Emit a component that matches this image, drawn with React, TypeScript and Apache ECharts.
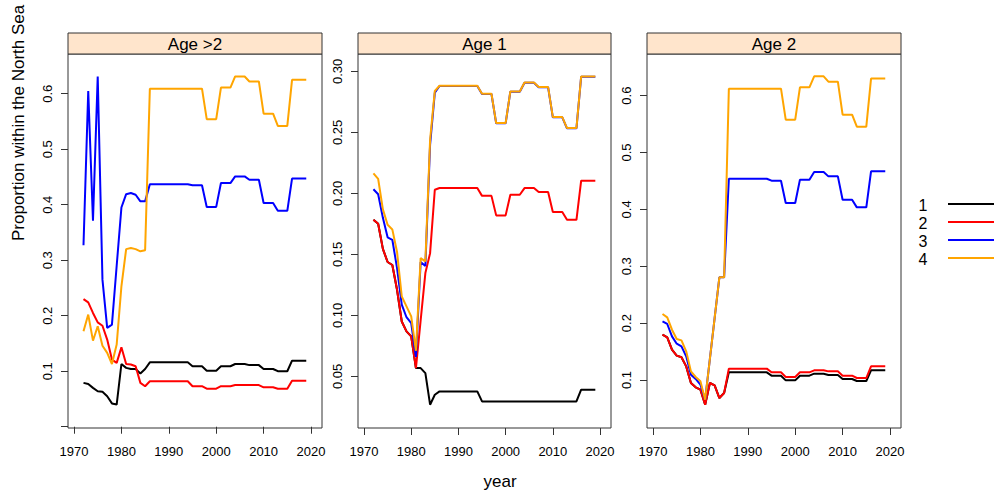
import React, { useEffect, useRef } from "react";
import * as echarts from "echarts";

const years = [
  1972, 1973, 1974, 1975, 1976, 1977, 1978, 1979, 1980, 1981, 1982, 1983,
  1984, 1985, 1986, 1987, 1988, 1989, 1990, 1991, 1992, 1993, 1994, 1995,
  1996, 1997, 1998, 1999, 2000, 2001, 2002, 2003, 2004, 2005, 2006, 2007,
  2008, 2009, 2010, 2011, 2012, 2013, 2014, 2015, 2016, 2017, 2018, 2019,
];

const panelTitles = ["Age >2", "Age 1", "Age 2"];
const seriesNames = ["1", "2", "3", "4"];
const seriesColors = ["#000000", "#FF0000", "#0000FF", "#FFA500"];
const xTickValues = [1970, 1980, 1990, 2000, 2010, 2020];

// Panel "Age >2"
const p1s1 = [
  0.079, 0.077, 0.070, 0.064, 0.063, 0.055, 0.042, 0.040, 0.113, 0.106, 0.104, 0.104,
  0.096, 0.104, 0.116, 0.116, 0.116, 0.116, 0.116, 0.116, 0.116, 0.116, 0.116, 0.109,
  0.109, 0.109, 0.101, 0.101, 0.101, 0.109, 0.109, 0.109, 0.113, 0.113, 0.113, 0.111,
  0.111, 0.111, 0.104, 0.104, 0.104, 0.100, 0.100, 0.100, 0.119, 0.119, 0.119, 0.119,
];
const p1s2 = [
  0.230, 0.224, 0.205, 0.188, 0.182, 0.157, 0.121, 0.115, 0.143, 0.113, 0.112, 0.109,
  0.079, 0.073, 0.082, 0.082, 0.082, 0.082, 0.082, 0.082, 0.082, 0.082, 0.082, 0.073,
  0.073, 0.073, 0.0685, 0.0685, 0.0685, 0.073, 0.073, 0.073, 0.075, 0.075, 0.075, 0.075,
  0.075, 0.075, 0.071, 0.071, 0.071, 0.0685, 0.0685, 0.0685, 0.083, 0.083, 0.083, 0.083,
];
const p1s3 = [
  0.327, 0.605, 0.371, 0.631, 0.265, 0.178, 0.184, 0.290, 0.395, 0.419, 0.421, 0.418,
  0.406, 0.406, 0.437, 0.437, 0.437, 0.437, 0.437, 0.437, 0.437, 0.437, 0.437, 0.435,
  0.435, 0.435, 0.396, 0.396, 0.396, 0.439, 0.439, 0.439, 0.451, 0.451, 0.451, 0.445,
  0.445, 0.445, 0.403, 0.403, 0.403, 0.389, 0.389, 0.389, 0.447, 0.447, 0.447, 0.447,
];
const p1s4 = [
  0.172, 0.202, 0.155, 0.181, 0.146, 0.133, 0.113, 0.148, 0.253, 0.320, 0.322, 0.320,
  0.316, 0.318, 0.609, 0.609, 0.609, 0.609, 0.609, 0.609, 0.609, 0.609, 0.609, 0.609,
  0.609, 0.609, 0.554, 0.554, 0.554, 0.611, 0.611, 0.611, 0.631, 0.631, 0.631, 0.622,
  0.622, 0.622, 0.564, 0.564, 0.564, 0.542, 0.542, 0.542, 0.625, 0.625, 0.625, 0.625,
];

// Panel "Age 1"
const p2s1 = [
  0.1784, 0.1751, 0.1545, 0.1438, 0.1413, 0.121, 0.095, 0.0869, 0.0828, 0.0568, 0.0568, 0.0527,
  0.0268, 0.035, 0.0377, 0.0377, 0.0377, 0.0377, 0.0377, 0.0377, 0.0377, 0.0377, 0.0377, 0.0295,
  0.0295, 0.0295, 0.0295, 0.0295, 0.0295, 0.0295, 0.0295, 0.0295, 0.0295, 0.0295, 0.0295, 0.0295,
  0.0295, 0.0295, 0.0295, 0.0295, 0.0295, 0.0295, 0.0295, 0.0295, 0.0391, 0.0391, 0.0391, 0.0391,
];
const p2s2 = [
  0.1784, 0.1751, 0.1545, 0.1438, 0.1413, 0.121, 0.095, 0.0869, 0.0828, 0.0568, 0.0960, 0.1347,
  0.151, 0.203, 0.2044, 0.2044, 0.2044, 0.2044, 0.2044, 0.2044, 0.2044, 0.2044, 0.2044, 0.198,
  0.198, 0.198, 0.182, 0.182, 0.182, 0.1989, 0.1989, 0.1989, 0.2044, 0.2044, 0.2044, 0.2011,
  0.2011, 0.2011, 0.1847, 0.1847, 0.1847, 0.1784, 0.1784, 0.1784, 0.2104, 0.2104, 0.2104, 0.2104,
];
const p2s3 = [
  0.2034, 0.1993, 0.180, 0.164, 0.162, 0.1388, 0.1088, 0.0985, 0.0937, 0.066, 0.1438, 0.1405,
  0.240, 0.2825, 0.2881, 0.2881, 0.2881, 0.2881, 0.2881, 0.2881, 0.2881, 0.2881, 0.2881, 0.2815,
  0.2815, 0.2815, 0.2575, 0.2575, 0.2575, 0.2834, 0.2834, 0.2834, 0.2908, 0.2908, 0.2908, 0.287,
  0.287, 0.287, 0.2624, 0.2624, 0.2624, 0.2534, 0.2534, 0.2534, 0.2957, 0.2957, 0.2957, 0.2957,
];
const p2s4 = [
  0.2165, 0.212, 0.187, 0.1743, 0.1705, 0.152, 0.1156, 0.1074, 0.0992, 0.071, 0.147, 0.1443,
  0.244, 0.284, 0.2883, 0.2883, 0.2883, 0.2883, 0.2883, 0.2883, 0.2883, 0.2883, 0.2883, 0.2817,
  0.2817, 0.2817, 0.2577, 0.2577, 0.2577, 0.2836, 0.2836, 0.2836, 0.291, 0.291, 0.291, 0.2872,
  0.2872, 0.2872, 0.2626, 0.2626, 0.2626, 0.2536, 0.2536, 0.2536, 0.2959, 0.2959, 0.2959, 0.2959,
];

// Panel "Age 2"
const p3s1 = [
  0.1797, 0.175, 0.1533, 0.1428, 0.1399, 0.124, 0.0947, 0.0871, 0.083, 0.0566, 0.0947, 0.0906,
  0.0683, 0.0771, 0.1135, 0.1135, 0.1135, 0.1135, 0.1135, 0.1135, 0.1135, 0.1135, 0.1135, 0.1076,
  0.1076, 0.1076, 0.0994, 0.0994, 0.0994, 0.1076, 0.1076, 0.1076, 0.1111, 0.1111, 0.1111, 0.1088,
  0.1088, 0.1088, 0.1018, 0.1018, 0.1018, 0.0982, 0.0982, 0.0982, 0.117, 0.117, 0.117, 0.117,
];
const p3s2 = [
  0.1797, 0.175, 0.1533, 0.1428, 0.1399, 0.124, 0.0947, 0.0871, 0.083, 0.0566, 0.0947, 0.0906,
  0.0683, 0.0771, 0.120, 0.120, 0.120, 0.120, 0.120, 0.120, 0.120, 0.120, 0.120, 0.1135,
  0.1135, 0.1135, 0.1053, 0.1053, 0.1053, 0.1135, 0.1135, 0.1135, 0.117, 0.117, 0.117, 0.1152,
  0.1152, 0.1152, 0.1076, 0.1076, 0.1076, 0.1035, 0.1035, 0.1035, 0.124, 0.124, 0.124, 0.124,
];
const p3s3 = [
  0.2032, 0.1985, 0.1768, 0.1639, 0.1592, 0.1416, 0.1094, 0.1018, 0.0918, 0.0654, 0.137, 0.209,
  0.2805, 0.2805, 0.454, 0.454, 0.454, 0.454, 0.454, 0.454, 0.454, 0.454, 0.454, 0.4505,
  0.4505, 0.4505, 0.4113, 0.4113, 0.4113, 0.4523, 0.4523, 0.4523, 0.4658, 0.4658, 0.4658, 0.4581,
  0.4581, 0.4581, 0.4171, 0.4171, 0.4171, 0.4036, 0.4036, 0.4036, 0.467, 0.467, 0.467, 0.467,
];
const p3s4 = [
  0.216, 0.2102, 0.1885, 0.172, 0.1697, 0.1504, 0.1152, 0.1053, 0.0977, 0.0654, 0.137, 0.209,
  0.2805, 0.2805, 0.6123, 0.6123, 0.6123, 0.6123, 0.6123, 0.6123, 0.6123, 0.6123, 0.6123, 0.6123,
  0.6123, 0.6123, 0.5578, 0.5578, 0.5578, 0.6147, 0.6147, 0.6147, 0.634, 0.634, 0.634, 0.6246,
  0.6246, 0.6246, 0.5666, 0.5666, 0.5666, 0.5455, 0.5455, 0.5455, 0.630, 0.630, 0.630, 0.630,
];

const panelSeries = [
  [p1s1, p1s2, p1s3, p1s4],
  [p2s1, p2s2, p2s3, p2s4],
  [p3s1, p3s2, p3s3, p3s4],
];
const yTickValues = [
  [0, 0.1, 0.2, 0.3, 0.4, 0.5, 0.6],
  [0.05, 0.1, 0.15, 0.2, 0.25, 0.3],
  [0.1, 0.2, 0.3, 0.4, 0.5, 0.6],
];
const yLabelValues = [
  [0.1, 0.2, 0.3, 0.4, 0.5, 0.6],
  [0.05, 0.1, 0.15, 0.2, 0.25, 0.3],
  [0.1, 0.2, 0.3, 0.4, 0.5, 0.6],
];
const yDecimals = [1, 2, 1];
const yRanges = [
  [-0.0023, 0.6715],
  [0.0077, 0.3143],
  [0.0156, 0.6733],
];

const FONT = "'Liberation Sans', Arial, Helvetica, sans-serif";
const panelLefts = [68, 358, 647];
const panelWidths = [254, 253, 254];
const plotTop = 54;
const plotHeight = 374;
const stripTop = 33;
const stripHeight = 21;
const axisColor = "#333333";

export default function App() {
  const ref = useRef<HTMLDivElement>(null);

  useEffect(() => {
    if (!ref.current) return;
    const chart = echarts.init(ref.current, undefined, { renderer: "svg" });

    const grids = panelLefts.map((left, i) => ({
      left,
      top: plotTop,
      width: panelWidths[i],
      height: plotHeight,
      show: true,
      borderColor: axisColor,
      borderWidth: 1,
      backgroundColor: "transparent",
    }));

    const xAxes = panelLefts.map((_, i) => ({
      type: "value",
      gridIndex: i,
      min: 1968.73,
      max: 2022.32,
      axisLine: { show: false },
      splitLine: { show: false },
      axisTick: {
        show: true,
        length: 7,
        inside: false,
        lineStyle: { color: axisColor },
        customValues: xTickValues,
      },
      axisLabel: {
        customValues: xTickValues,
        margin: 17,
        fontSize: 13,
        color: "#000",
        fontFamily: FONT,
        formatter: (v: number) => String(Math.round(v)),
      },
    }));

    const yAxes = panelLefts.map((_, i) => ({
      type: "value",
      gridIndex: i,
      min: yRanges[i][0],
      max: yRanges[i][1],
      axisLine: { show: false },
      splitLine: { show: false },
      axisTick: {
        show: true,
        length: 7,
        inside: false,
        lineStyle: { color: axisColor },
        customValues: yTickValues[i],
      },
      axisLabel: {
        customValues: yLabelValues[i],
        rotate: 90,
        margin: 14,
        fontSize: 13,
        color: "#000",
        fontFamily: FONT,
        formatter: (v: number) => v.toFixed(yDecimals[i]),
      },
    }));

    const series: any[] = [];
    panelSeries.forEach((group, pi) => {
      group.forEach((vals, si) => {
        series.push({
          type: "line",
          name: seriesNames[si],
          xAxisIndex: pi,
          yAxisIndex: pi,
          data: years.map((y, k) => [y, vals[k]]),
          symbol: "none",
          showSymbol: false,
          lineStyle: { color: seriesColors[si], width: 2 },
          itemStyle: { color: seriesColors[si] },
          z: 2 + si,
        });
      });
    });

    const graphics: any[] = [];
    panelLefts.forEach((left, i) => {
      graphics.push({
        type: "rect",
        shape: { x: left, y: stripTop, width: panelWidths[i], height: stripHeight },
        style: { fill: "#FFE5CC", stroke: axisColor, lineWidth: 1 },
        z: 10,
      });
      graphics.push({
        type: "text",
        x: left + panelWidths[i] / 2,
        y: stripTop + stripHeight / 2 + 1,
        style: {
          text: panelTitles[i],
          fontSize: 17,
          fontFamily: FONT,
          fill: "#000",
          align: "center",
          verticalAlign: "middle",
        },
        z: 11,
      });
    });

    const legendYs = [204, 222, 240, 258];
    seriesNames.forEach((name, i) => {
      graphics.push({
        type: "text",
        x: 923,
        y: legendYs[i] + 1.5,
        style: {
          text: name,
          fontSize: 16,
          fontFamily: FONT,
          fill: "#000",
          align: "center",
          verticalAlign: "middle",
        },
      });
      graphics.push({
        type: "line",
        shape: { x1: 948, y1: legendYs[i], x2: 1000, y2: legendYs[i] },
        style: { stroke: seriesColors[i], lineWidth: 2 },
      });
    });

    graphics.push({
      type: "text",
      x: 18,
      y: 241,
      rotation: Math.PI / 2,
      style: {
        text: "Proportion within the North Sea",
        fontSize: 17,
        fontFamily: FONT,
        fill: "#000",
        align: "left",
        verticalAlign: "middle",
      },
    });
    graphics.push({
      type: "text",
      x: 500,
      y: 481,
      style: {
        text: "year",
        fontSize: 17,
        fontFamily: FONT,
        fill: "#000",
        align: "center",
        verticalAlign: "middle",
      },
    });

    chart.setOption({
      animation: false,
      backgroundColor: "#ffffff",
      grid: grids,
      xAxis: xAxes,
      yAxis: yAxes,
      series,
      graphic: graphics,
    });

    return () => chart.dispose();
  }, []);

  return (
    <div
      ref={ref}
      style={{ position: "absolute", left: 0, top: 0, width: 994, height: 495 }}
    />
  );
}
